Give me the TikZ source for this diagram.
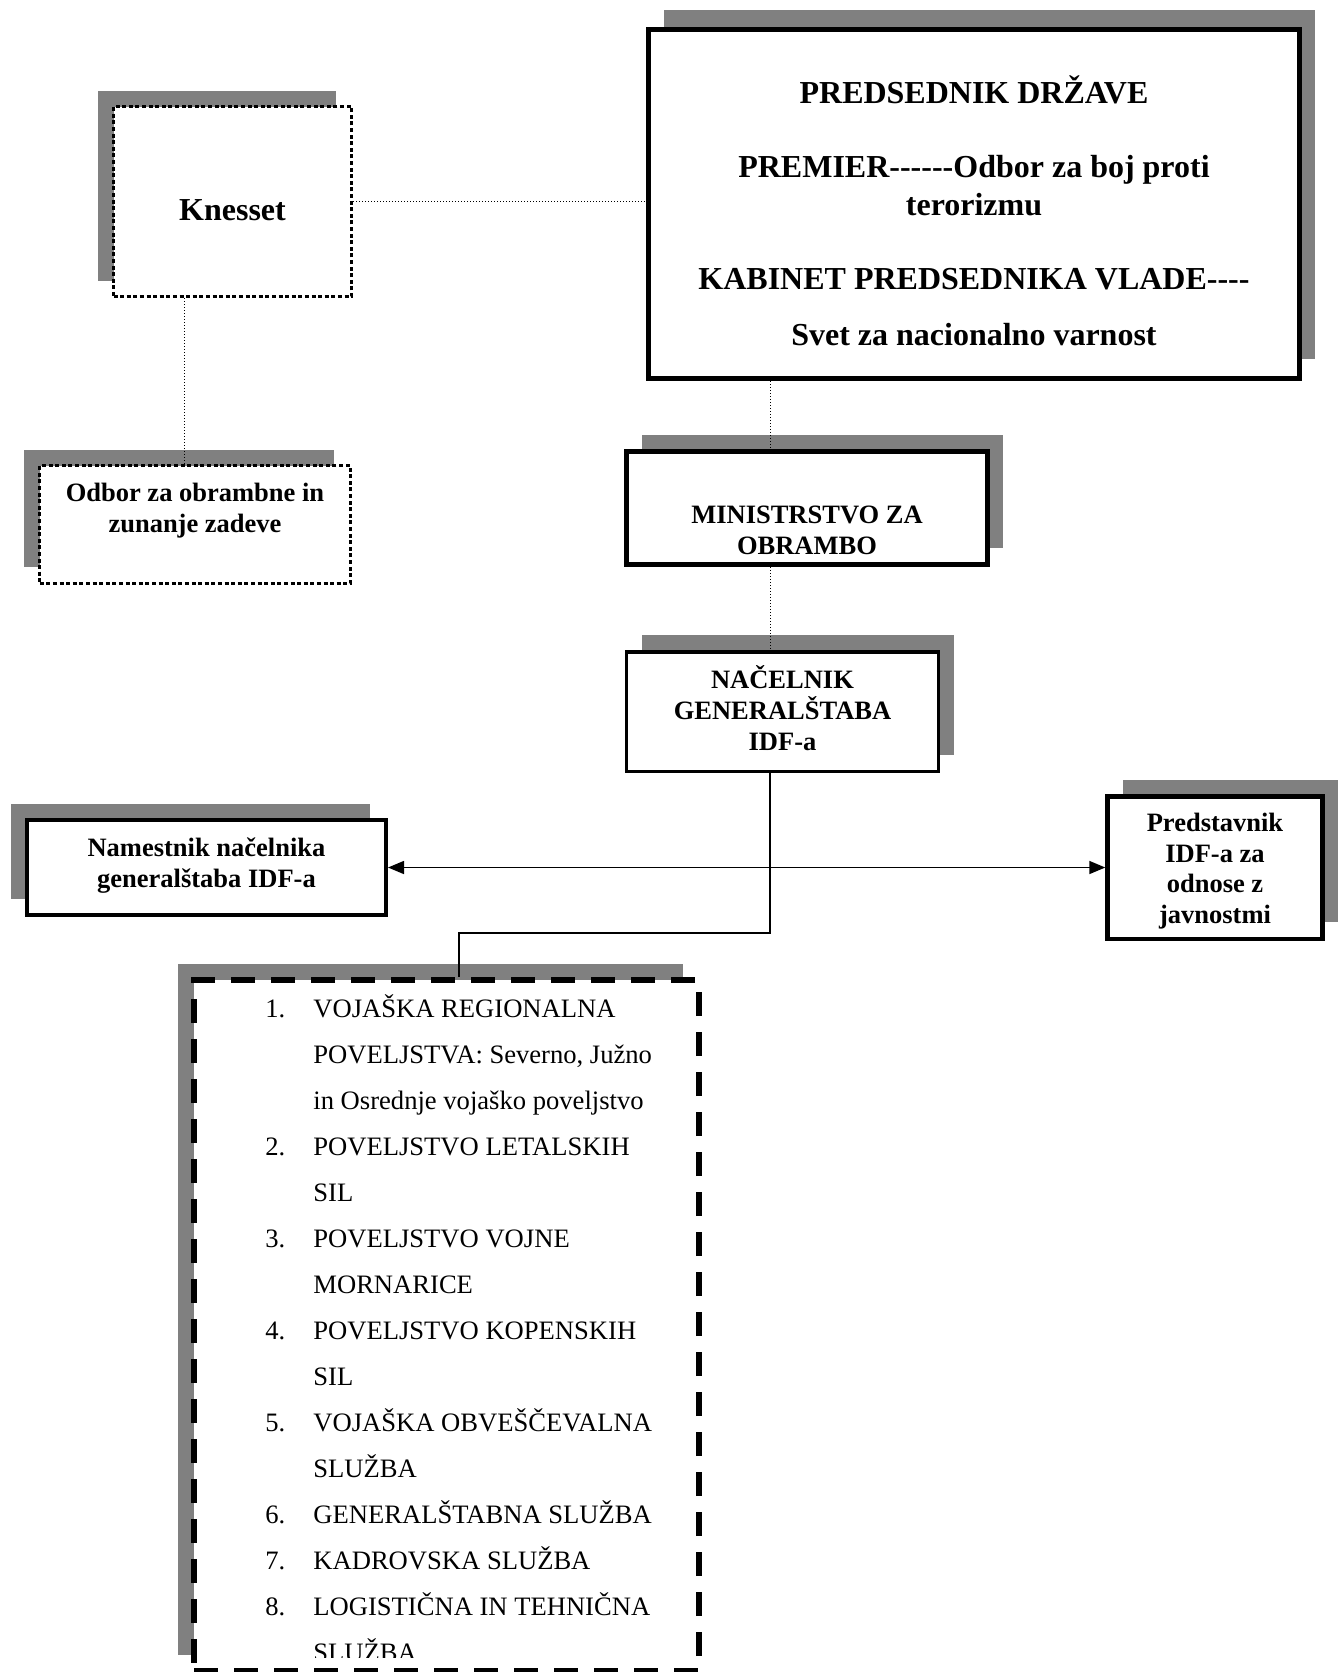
\documentclass[tikz,border=0pt]{standalone}
\usepackage{fontspec}
\setmainfont{Liberation Serif}
\usetikzlibrary{shadows,arrows.meta}
\definecolor{shgray}{HTML}{808080}
\newcommand{\hyph}{\mbox{-}}

\begin{document}
\begin{tikzpicture}[x=0.5pt, y=-0.5pt,
    SOL/.style={draw=black, fill=white, line width=#1, inner sep=0pt},
    SOL/.default=1.6pt,
    DOT/.style={draw=black, fill=white, line width=1.6pt, dash pattern=on 2pt off 1.3pt, inner sep=0pt},
    DSH/.style={draw=black, fill=white, line width=3pt, dash pattern=on 12pt off 8pt, inner sep=0pt},
    SHR/.style={general shadow={fill=shgray, shadow xshift=7.5pt, shadow yshift=#1}},
    SHR/.default=8.5pt,
    SHL/.style={general shadow={fill=shgray, shadow xshift=-8pt, shadow yshift=8pt}},
    LNK/.style={line width=0.5pt, dash pattern=on 0.5pt off 1pt},
    CON/.style={line width=0.75pt}
    ]
    \useasboundingbox (0,0) rectangle (1344,1672);

    \node[SOL=2.5pt, SHR=10pt, minimum width=325.5pt, minimum height=174.5pt] (main) at (974,204)
        {\parbox{300pt}{\centering\fontsize{16}{19}\selectfont\bfseries\vspace*{7pt}PREDSEDNIK DRŽAVE\\[18pt]
        PREMIER\hyph\hyph\hyph\hyph\hyph\hyph Odbor za boj proti\\terorizmu\\[18pt]
        KABINET PREDSEDNIKA VLADE\hyph\hyph\hyph\hyph\\[9pt]Svet za nacionalno varnost}};
    \node[DOT, SHL, minimum width=119pt, minimum height=95pt] (knesset) at (232.5,201.5)
        {\parbox{110pt}{\centering\fontsize{16}{19}\selectfont\bfseries\vspace*{8.5pt}Knesset}};
    \node[DOT, SHL, minimum width=155.3pt, minimum height=58.8pt] (odbor) at (195,524.5)
        {\parbox{150pt}{\centering\fontsize{13.25}{15.5}\selectfont\bfseries Odbor za obrambne in\\zunanje zadeve\par\vspace*{13.5pt}}};
    \node[SOL=2.5pt, SHR, minimum width=180.5pt, minimum height=56.5pt] (min) at (807,508)
        {\parbox{170pt}{\centering\fontsize{13.25}{15.5}\selectfont\bfseries\vspace*{22pt}MINISTRSTVO ZA\\OBRAMBO}};
    \node[SOL=1.7pt, SHR, minimum width=156pt, minimum height=59.75pt] (nac) at (782.5,711.75)
        {\parbox{150pt}{\centering\fontsize{13.25}{15.5}\selectfont\bfseries NAČELNIK\\GENERALŠTABA\\IDF-a\par\vspace*{3.5pt}}};
    \node[SOL=2pt, SHL, minimum width=179.5pt, minimum height=47.5pt] (nam) at (206.5,867.5)
        {\parbox{175pt}{\centering\fontsize{13.25}{15.5}\selectfont\bfseries Namestnik načelnika\\generalštaba IDF-a\par\vspace*{2pt}}};
    \node[SOL=2.2pt, SHR, minimum width=107.5pt, minimum height=71.25pt] (pred) at (1215,867.75)
        {\parbox{100pt}{\centering\fontsize{13.25}{15.25}\selectfont\bfseries\vspace*{3.5pt}Predstavnik\\IDF-a za\\odnose z\\javnostmi}};
    \node[DSH, SHL, minimum width=252.5pt, minimum height=345.5pt] (list) at (446.5,1325.5) {};

    % list of commands, cut off at the bottom
    \begin{scope}
        \clip (list.north west) rectangle ([yshift=8.5pt]list.south east);
        \node[anchor=base west, inner sep=0pt] (items) at (265,1017)
            {\parbox[t]{200pt}{\fontsize{13.3}{23}\selectfont
            \makebox[24pt][l]{1.}VOJAŠKA REGIONALNA\\
            \hspace*{24pt}POVELJSTVA: Severno, Južno\\
            \hspace*{24pt}in Osrednje vojaško poveljstvo\\
            \makebox[24pt][l]{2.}POVELJSTVO LETALSKIH\\
            \hspace*{24pt}SIL\\
            \makebox[24pt][l]{3.}POVELJSTVO VOJNE\\
            \hspace*{24pt}MORNARICE\\
            \makebox[24pt][l]{4.}POVELJSTVO KOPENSKIH\\
            \hspace*{24pt}SIL\\
            \makebox[24pt][l]{5.}VOJAŠKA OBVEŠČEVALNA\\
            \hspace*{24pt}SLUŽBA\\
            \makebox[24pt][l]{6.}GENERALŠTABNA SLUŽBA\\
            \makebox[24pt][l]{7.}KADROVSKA SLUŽBA\\
            \makebox[24pt][l]{8.}LOGISTIČNA IN TEHNIČNA\\
            \hspace*{24pt}SLUŽBA}};
    \end{scope}

    \coordinate (spine) at (770,0);
    \coordinate (turn) at (459,933);
    \draw[LNK] (knesset.east) -- (knesset.east -| main.west);
    \draw[LNK] ([xshift=-24.25pt]knesset.south) -- ([xshift=-24.25pt]knesset.south |- odbor.north);
    \draw[LNK] (main.south -| spine) -- (min.north -| spine);
    \draw[LNK] (min.south -| spine) -- (nac.north -| spine);
    \draw[CON] (nac.south -| spine) -- (spine |- turn) -- (turn) -- (turn |- list.north);
    \draw[CON, {Triangle[length=8pt,width=6.5pt]}-{Triangle[length=8pt,width=6.5pt]}] (nam.east) -- (nam.east -| pred.west);
\end{tikzpicture}
\end{document}
